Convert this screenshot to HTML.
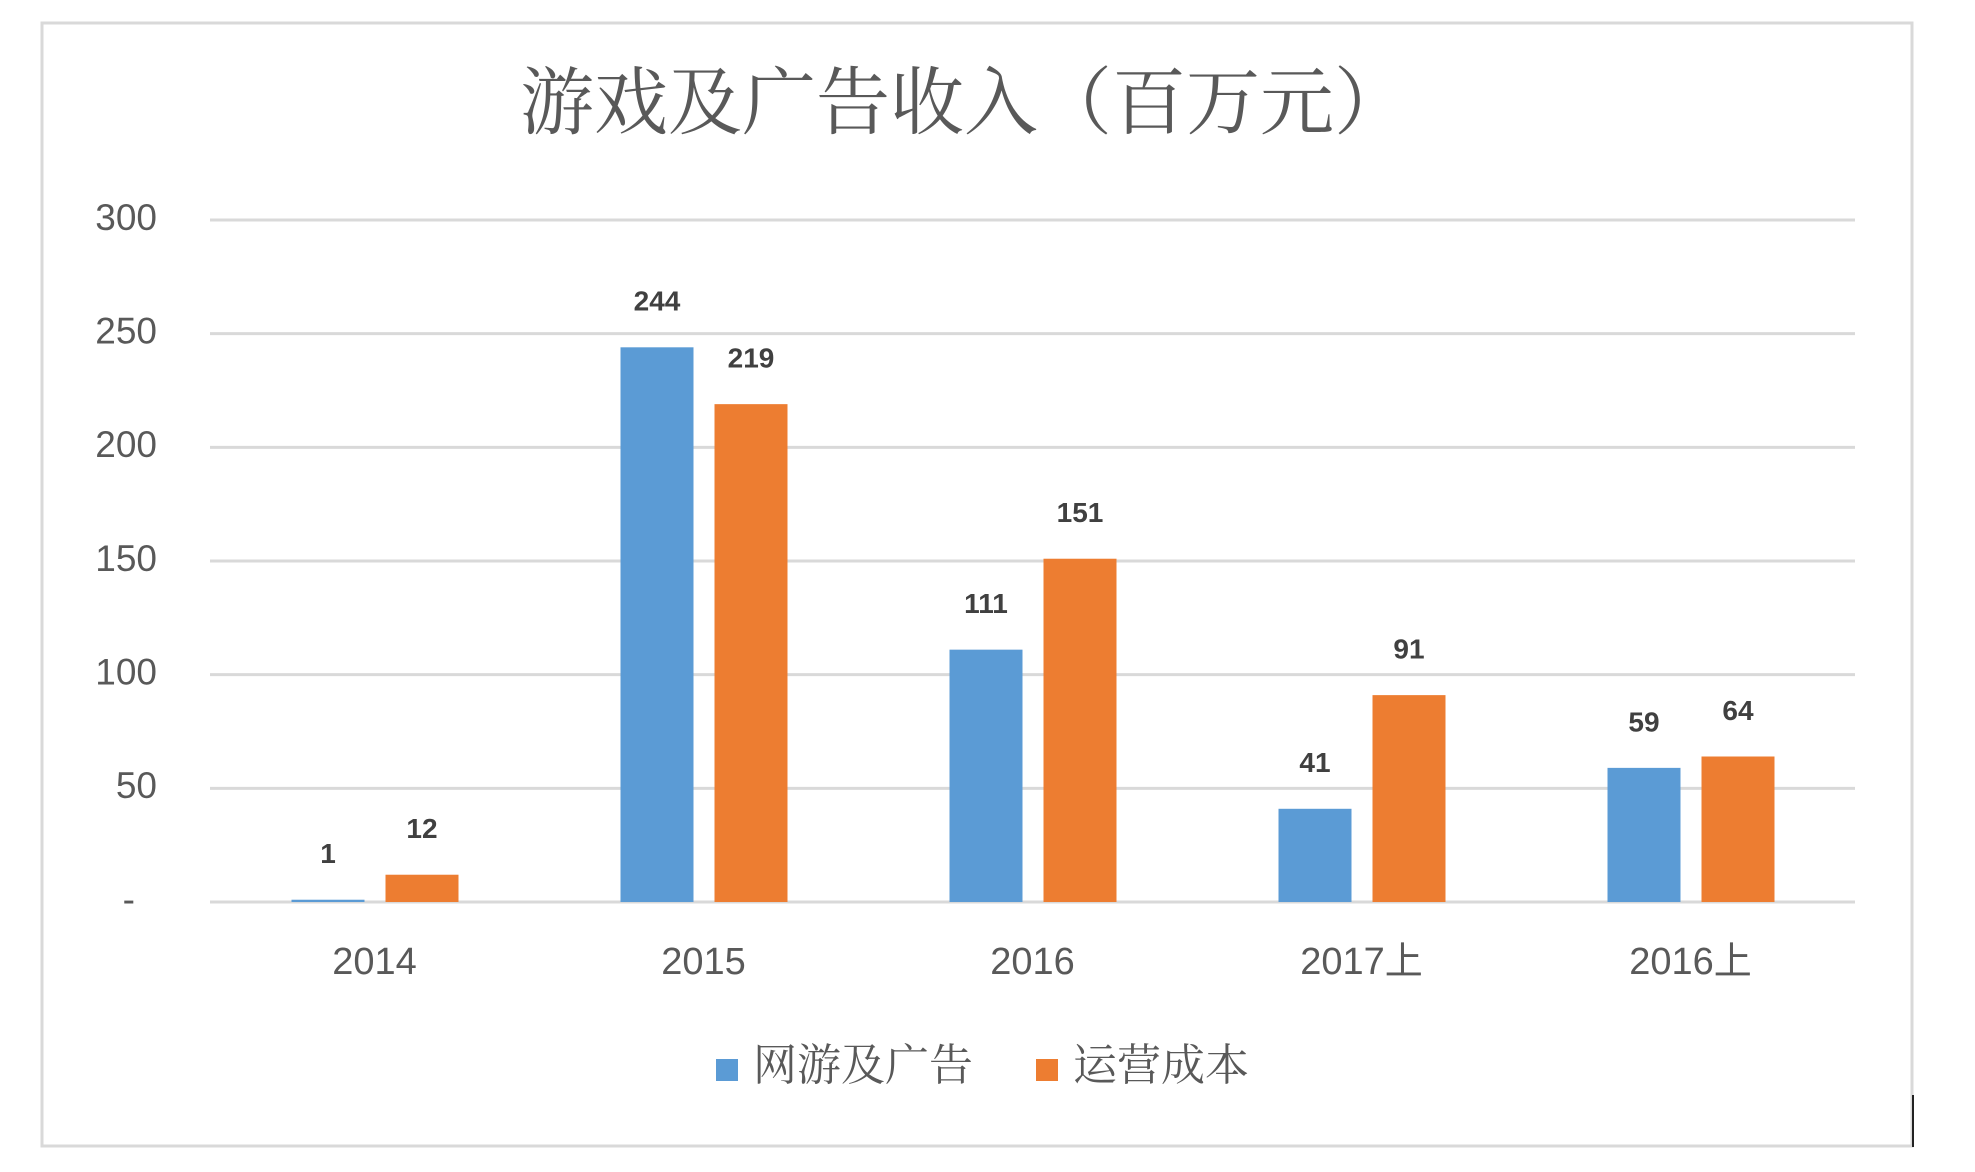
<!DOCTYPE html>
<html><head><meta charset="utf-8"><style>
html,body{margin:0;padding:0;background:#fff}
svg{display:block}
</style></head><body>
<svg id="chart" width="1975" height="1172" viewBox="0 0 1975 1172" xmlns="http://www.w3.org/2000/svg">
<rect x="42" y="23" width="1870" height="1123" fill="#fff" stroke="#d9d9d9" stroke-width="3"/>
<line x1="1913" y1="1095" x2="1913" y2="1147" stroke="#222" stroke-width="2"/>
<text x="964" y="111" text-anchor="middle" dominant-baseline="middle" font-family="'Liberation Serif','Noto Serif CJK SC',serif" font-size="74" fill="#595959">游戏及广告收入（百万元）</text>
<g id="grid"></g><g id="bars"></g><g id="labels"></g>
<g>
<rect x="716" y="1059" width="22" height="22" fill="#5B9BD5"/>
<text x="753" y="1070" dominant-baseline="middle" font-family="'Liberation Serif','Noto Serif CJK SC',serif" font-size="44" fill="#595959">网游及广告</text>
<rect x="1036" y="1059" width="22" height="22" fill="#ED7D31"/>
<text x="1073" y="1070" dominant-baseline="middle" font-family="'Liberation Serif','Noto Serif CJK SC',serif" font-size="44" fill="#595959">运营成本</text>
</g>
</svg>
<script>
const categories = ["2014","2015","2016","2017上","2016上"];
const seriesGames = [1,244,111,41,59];
const seriesCost = [12,219,151,91,64];
const yTicks = [0,50,100,150,200,250,300];
const yTickLabels = ["-","50","100","150","200","250","300"];

const NS="http://www.w3.org/2000/svg";
const X0=210,X1=1855,Y0=902,Y300=220;
const yScale=v=>Y0-(Y0-Y300)*v/300;
const bandW=(X1-X0)/categories.length;
const xCenter=i=>X0+bandW*(i+0.5);
function mk(tag,attrs,parent,text){const e=document.createElementNS(NS,tag);for(const k in attrs)e.setAttribute(k,attrs[k]);if(text!==undefined)e.textContent=text;parent.appendChild(e);return e;}
const grid=document.getElementById('grid'),bars=document.getElementById('bars'),labels=document.getElementById('labels');
const font="'Liberation Sans','Noto Sans CJK SC',sans-serif";
yTicks.forEach((t,i)=>{
  const y=yScale(t);
  const l=mk('line',{x1:X0,x2:X1,y1:y,y2:y,stroke:'#d9d9d9','stroke-width':3},grid);
  
  
  const tx=mk('text',{x:t===0?135:157,y:y,'text-anchor':'end','dominant-baseline':'middle','font-family':font,'font-size':37,fill:'#595959'},labels,yTickLabels[i]);
  
  
});
categories.forEach((c,i)=>{
  const cx=xCenter(i);
  [[seriesGames,'#5B9BD5',-83,'games'],[seriesCost,'#ED7D31',11,'cost']].forEach(([arr,col,off,nm])=>{
    const v=arr[i],y=yScale(v);
    const r=mk('rect',{x:cx+off,y:y,width:73,height:Y0-y,fill:col},bars);
    
    
    const t=mk('text',{x:cx+off+36.5,y:y-44,'text-anchor':'middle','dominant-baseline':'middle','font-family':font,'font-size':28,'font-weight':'bold',fill:'#404040'},labels,String(v));
    
    
  });
  const xl=mk('text',{x:cx,y:964,'text-anchor':'middle','dominant-baseline':'middle','font-family':font,'font-size':38,fill:'#595959'},labels,c);
  
  
});
</script>
</body></html>
